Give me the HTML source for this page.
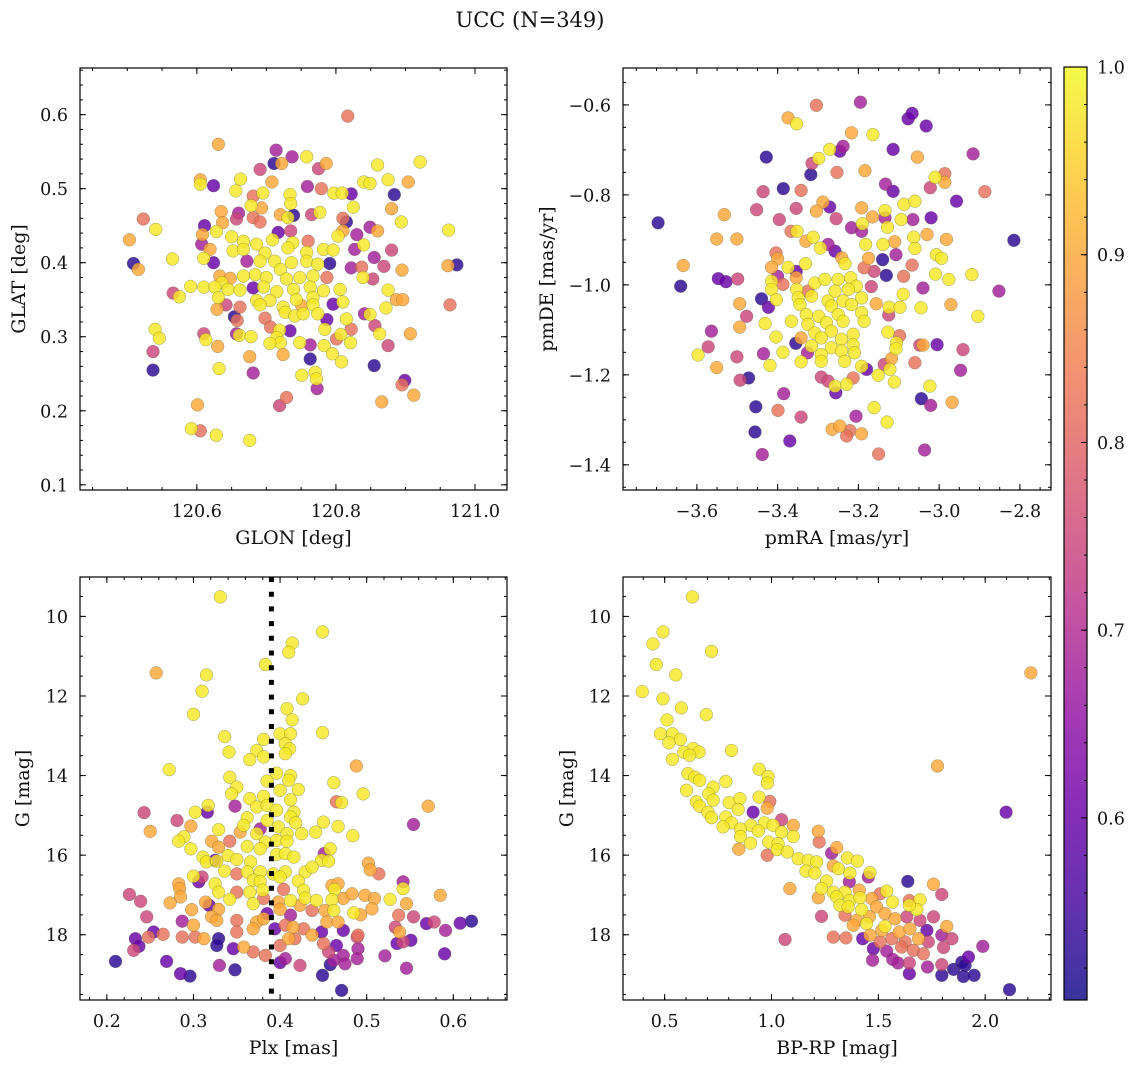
<!DOCTYPE html>
<html><head><meta charset="utf-8">
<style>
html,body{margin:0;padding:0;background:#fff;}
svg text{font-family:"DejaVu Serif","Liberation Serif",serif;fill:#111;}
</style></head>
<body>
<svg id="fig" width="1136" height="1067" viewBox="0 0 1136 1067" xmlns="http://www.w3.org/2000/svg">
<defs>
<linearGradient id="plasma" x1="0" y1="1" x2="0" y2="0">
<stop offset="0" stop-color="#0d0887"/><stop offset="0.1" stop-color="#41049d"/><stop offset="0.2" stop-color="#6a00a8"/><stop offset="0.3" stop-color="#8f0da4"/><stop offset="0.4" stop-color="#b12a90"/><stop offset="0.5" stop-color="#cc4778"/><stop offset="0.6" stop-color="#e16462"/><stop offset="0.7" stop-color="#f2844b"/><stop offset="0.8" stop-color="#fca636"/><stop offset="0.9" stop-color="#fcce25"/><stop offset="1" stop-color="#f0f921"/>
</linearGradient>
</defs>
<text x="530" y="27" font-size="21" text-anchor="middle">UCC (N=349)</text>
</svg>
<script>
const glon=[120.817,120.631,120.714,120.711,120.722,120.737,120.758,120.691,120.775,120.786,120.860,120.921,120.605,120.605,120.624,120.663,120.656,120.708,120.759,120.779,120.797,120.809,120.822,120.840,120.849,120.875,120.904,120.884,120.734,120.681,120.695,120.678,120.693,120.735,120.635,120.660,120.657,120.681,120.691,120.720,120.739,120.731,120.765,120.777,120.810,120.815,120.825,120.880,120.894,120.523,120.541,120.503,120.611,120.637,120.628,120.608,120.650,120.717,120.735,120.667,120.709,120.738,120.760,120.803,120.810,120.830,120.849,120.860,120.962,120.607,120.619,120.652,120.667,120.686,120.698,120.731,120.758,120.782,120.796,120.827,120.840,120.880,120.509,120.516,120.565,120.610,120.624,120.672,120.691,120.712,120.736,120.758,120.774,120.791,120.822,120.837,120.855,120.869,120.895,120.961,120.974,120.720,120.684,120.700,120.729,120.748,120.767,120.787,120.839,120.853,120.633,120.636,120.648,120.667,120.591,120.610,120.626,120.645,120.662,120.681,120.696,120.715,120.739,120.763,120.782,120.806,120.566,120.575,120.631,120.686,120.705,120.743,120.767,120.796,120.810,120.875,120.887,120.896,120.964,120.629,120.642,120.662,120.691,120.724,120.751,120.767,120.872,120.654,120.658,120.698,120.727,120.741,120.753,120.774,120.787,120.815,120.841,120.849,120.540,120.546,120.610,120.613,120.630,120.657,120.661,120.678,120.706,120.719,120.734,120.715,120.720,120.705,120.748,120.763,120.784,120.783,120.801,120.807,120.822,120.821,120.856,120.863,120.875,120.907,120.537,120.537,120.632,120.676,120.681,120.724,120.763,120.795,120.808,120.751,120.770,120.772,120.773,120.855,120.899,120.895,120.912,120.866,120.729,120.719,120.601,120.592,120.605,120.628,120.676];
const glat=[.598,.560,.552,.534,.534,.543,.543,.526,.527,.534,.532,.536,.512,.506,.504,.513,.497,.509,.503,.500,.494,.494,.493,.509,.507,.512,.509,.492,.492,.490,.494,.477,.474,.480,.469,.467,.459,.461,.455,.465,.464,.461,.465,.468,.460,.455,.475,.473,.455,.459,.445,.431,.450,.454,.442,.438,.435,.441,.443,.429,.431,.427,.429,.436,.443,.438,.448,.443,.444,.425,.418,.416,.418,.425,.413,.420,.414,.418,.417,.418,.424,.417,.399,.391,.405,.406,.400,.402,.402,.402,.400,.402,.398,.399,.393,.394,.407,.395,.390,.396,.397,.391,.384,.380,.378,.380,.382,.380,.380,.378,.382,.373,.379,.382,.368,.367,.367,.364,.363,.366,.367,.361,.364,.367,.362,.364,.359,.354,.353,.349,.349,.350,.353,.344,.347,.363,.350,.350,.343,.337,.343,.340,.343,.340,.342,.343,.339,.327,.322,.325,.333,.328,.331,.331,.323,.324,.331,.330,.310,.298,.304,.296,.287,.304,.302,.300,.313,.309,.308,.299,.292,.291,.292,.289,.310,.288,.297,.303,.310,.292,.315,.304,.288,.304,.280,.255,.257,.273,.251,.276,.270,.277,.266,.248,.252,.243,.230,.261,.241,.235,.221,.212,.218,.207,.208,.176,.173,.167,.160];
const prob1=[.82,.9,.68,.53,.9,.68,.98,.75,.75,.9,.98,.98,.9,.98,.6,.98,.98,.9,.68,.82,.98,.98,.6,.98,.98,.98,.9,.53,.98,.82,.98,.98,.9,.98,.9,.68,.75,.82,.82,.9,.53,.98,.75,.98,.82,.53,.98,.9,.98,.82,.98,.9,.6,.9,.98,.9,.98,.6,.75,.98,.98,.98,.82,.98,.9,.68,.68,.9,.98,.68,.9,.98,.98,.98,.98,.98,.98,.98,.98,.68,.98,.75,.53,.9,.98,.98,.6,.68,.98,.98,.98,.98,.98,.53,.68,.82,.68,.75,.9,.9,.53,.98,.98,.98,.98,.98,.98,.82,.98,.75,.9,.98,.9,.98,.98,.98,.98,.98,.98,.6,.98,.98,.98,.98,.98,.98,.75,.98,.98,.98,.98,.98,.98,.6,.98,.98,.9,.9,.82,.9,.75,.82,.98,.98,.9,.98,.98,.53,.82,.82,.98,.98,.98,.98,.6,.98,.68,.98,.98,.98,.75,.98,.9,.68,.98,.98,.82,.98,.6,.98,.98,.98,.98,.68,.98,.98,.82,.98,.82,.98,.75,.98,.75,.9,.75,.53,.98,.9,.68,.9,.53,.98,.98,.98,.98,.98,.68,.53,.6,.82,.9,.9,.82,.75,.9,.98,.82,.98,.98];

const pmra=[-3.304,-3.195,-3.374,-3.353,-3.217,-3.164,-3.077,-3.067,-3.032,-3.428,-3.271,-3.246,-3.238,-3.298,-3.315,-3.318,-3.253,-3.184,-3.114,-3.054,-2.916,-3.010,-2.986,-2.986,-3.133,-3.114,-3.022,-2.957,-2.887,-3.386,-3.436,-3.342,-3.271,-3.288,-3.304,-3.354,-3.452,-3.396,-3.255,-3.192,-3.165,-3.134,-3.128,-3.134,-3.217,-3.192,-3.190,-3.087,-3.060,-3.094,-3.065,-3.020,-3.696,-3.532,-3.551,-3.501,-3.367,-3.352,-3.312,-3.330,-3.275,-3.294,-3.258,-3.182,-3.139,-3.110,-3.107,-3.063,-3.060,-3.030,-2.982,-3.007,-2.994,-2.815,-3.404,-3.400,-3.241,-3.233,-3.175,-3.140,-3.186,-3.161,-3.634,-3.415,-3.374,-3.354,-3.331,-3.400,-3.131,-3.088,-3.067,-3.009,-2.976,-2.919,-3.640,-3.547,-3.528,-3.499,-3.415,-3.387,-3.354,-3.308,-3.283,-3.250,-3.219,-3.205,-3.168,-3.040,-2.852,-3.415,-3.353,-3.325,-3.258,-3.225,-3.440,-3.403,-3.349,-3.316,-3.275,-3.238,-3.192,-3.089,-3.494,-3.423,-3.345,-3.267,-3.217,-3.156,-3.124,-3.097,-3.045,-2.971,-3.477,-3.329,-3.298,-3.250,-3.192,-3.125,-2.904,-3.431,-3.366,-3.325,-3.279,-3.238,-3.186,-3.564,-3.494,-3.308,-3.267,-3.213,-3.127,-3.098,-3.404,-3.342,-3.292,-3.242,-3.106,-3.572,-3.355,-3.316,-3.267,-3.213,-3.107,-3.048,-3.040,-3.005,-2.941,-3.597,-3.501,-3.435,-3.387,-3.326,-3.292,-3.242,-3.210,-3.551,-3.419,-3.342,-3.292,-3.234,-3.192,-3.180,-3.136,-3.118,-3.060,-2.947,-3.493,-3.472,-3.292,-3.275,-3.213,-3.151,-3.122,-3.111,-3.258,-3.229,-3.256,-3.385,-3.023,-3.044,-3.021,-2.968,-3.454,-3.399,-3.342,-3.206,-3.161,-3.129,-3.265,-3.246,-3.221,-3.229,-3.192,-3.456,-3.370,-3.438,-3.150,-3.036];
const pmde=[-0.601,-0.594,-0.629,-0.642,-0.662,-0.666,-0.631,-0.619,-0.647,-0.716,-0.699,-0.703,-0.692,-0.719,-0.730,-0.755,-0.750,-0.746,-0.699,-0.716,-0.709,-0.761,-0.753,-0.772,-0.776,-0.792,-0.784,-0.814,-0.793,-0.786,-0.793,-0.790,-0.827,-0.816,-0.836,-0.830,-0.833,-0.855,-0.853,-0.829,-0.849,-0.835,-0.872,-0.851,-0.873,-0.881,-0.864,-0.821,-0.814,-0.855,-0.855,-0.851,-0.862,-0.844,-0.898,-0.898,-0.881,-0.881,-0.894,-0.903,-0.910,-0.918,-0.925,-0.910,-0.910,-0.904,-0.933,-0.894,-0.919,-0.888,-0.899,-0.933,-0.941,-0.901,-0.929,-0.942,-0.940,-0.953,-0.941,-0.944,-0.962,-0.970,-0.957,-0.961,-0.961,-0.970,-0.953,-0.981,-0.979,-0.981,-0.956,-0.976,-0.988,-0.977,-1.003,-0.986,-0.993,-0.987,-0.992,-0.999,-0.984,-0.996,-0.988,-0.988,-0.984,-1.003,-1.004,-1.007,-1.014,-1.010,-1.010,-1.014,-1.014,-1.010,-1.031,-1.033,-1.029,-1.025,-1.036,-1.036,-1.029,-1.021,-1.042,-1.050,-1.044,-1.047,-1.044,-1.042,-1.050,-1.050,-1.051,-1.044,-1.070,-1.066,-1.070,-1.066,-1.062,-1.067,-1.070,-1.086,-1.081,-1.088,-1.084,-1.081,-1.081,-1.103,-1.094,-1.107,-1.103,-1.110,-1.105,-1.113,-1.116,-1.118,-1.118,-1.121,-1.129,-1.138,-1.130,-1.136,-1.140,-1.133,-1.142,-1.134,-1.134,-1.133,-1.144,-1.156,-1.160,-1.153,-1.150,-1.151,-1.155,-1.147,-1.151,-1.184,-1.179,-1.171,-1.170,-1.170,-1.181,-1.188,-1.177,-1.164,-1.173,-1.190,-1.212,-1.207,-1.205,-1.214,-1.207,-1.201,-1.188,-1.216,-1.225,-1.221,-1.240,-1.242,-1.225,-1.253,-1.268,-1.261,-1.271,-1.279,-1.294,-1.292,-1.273,-1.305,-1.321,-1.314,-1.324,-1.336,-1.331,-1.327,-1.347,-1.377,-1.376,-1.367];
const prob2=[.82,.68,.9,.98,.9,.98,.6,.6,.6,.53,.98,.6,.68,.98,.75,.53,.82,.9,.6,.9,.68,.98,.82,.9,.68,.6,.75,.6,.82,.53,.75,.82,.6,.9,.9,.75,.75,.75,.75,.9,.9,.98,.98,.68,.68,.68,.98,.98,.98,.98,.68,.6,.53,.9,.9,.9,.82,.98,.98,.9,.68,.98,.6,.98,.98,.9,.68,.98,.98,.9,.9,.98,.98,.53,.82,.9,.9,.98,.9,.53,.82,.75,.9,.9,.98,.6,.98,.68,.53,.82,.82,.98,.98,.98,.53,.6,.6,.75,.98,.82,.9,.98,.98,.98,.98,.98,.75,.68,.68,.98,.98,.82,.98,.98,.53,.98,.98,.98,.98,.98,.98,.98,.9,.6,.98,.98,.98,.9,.98,.98,.98,.9,.75,.98,.98,.98,.98,.75,.98,.98,.98,.98,.98,.98,.98,.68,.9,.98,.98,.98,.98,.82,.98,.9,.98,.98,.98,.75,.53,.98,.98,.98,.98,.75,.9,.6,.75,.98,.75,.68,.98,.68,.98,.98,.98,.9,.98,.98,.98,.98,.98,.6,.75,.9,.82,.68,.75,.53,.75,.75,.82,.98,.98,.98,.98,.98,.6,.68,.98,.53,.68,.9,.53,.82,.75,.68,.98,.98,.9,.9,.82,.82,.9,.53,.6,.68,.82,.68];

const plx=[0.331,0.449,0.414,0.410,0.383,0.257,0.315,0.310,0.300,0.426,0.408,0.414,0.449,0.336,0.341,0.381,0.373,0.365,0.381,0.400,0.412,0.406,0.411,0.406,0.272,0.488,0.396,0.412,0.342,0.385,0.410,0.462,0.350,0.400,0.421,0.496,0.344,0.365,0.381,0.412,0.465,0.471,0.571,0.317,0.316,0.348,0.373,0.385,0.396,0.416,0.302,0.243,0.281,0.362,0.385,0.412,0.418,0.450,0.554,0.297,0.358,0.377,0.398,0.467,0.250,0.329,0.354,0.373,0.408,0.425,0.441,0.484,0.289,0.283,0.321,0.342,0.383,0.396,0.408,0.297,0.329,0.362,0.377,0.458,0.451,0.311,0.325,0.340,0.350,0.366,0.396,0.406,0.416,0.448,0.456,0.315,0.327,0.502,0.504,0.514,0.336,0.350,0.362,0.377,0.392,0.406,0.429,0.437,0.300,0.306,0.310,0.325,0.369,0.377,0.400,0.421,0.542,0.283,0.284,0.460,0.467,0.542,0.463,0.226,0.239,0.285,0.329,0.350,0.365,0.380,0.404,0.427,0.273,0.314,0.342,0.369,0.381,0.398,0.412,0.429,0.442,0.460,0.473,0.483,0.498,0.509,0.527,0.546,0.585,0.318,0.329,0.298,0.400,0.423,0.437,0.452,0.462,0.485,0.493,0.506,0.246,0.287,0.300,0.321,0.327,0.350,0.373,0.381,0.385,0.412,0.454,0.467,0.537,0.554,0.569,0.578,0.608,0.621,0.254,0.265,0.233,0.248,0.287,0.302,0.312,0.329,0.350,0.369,0.394,0.406,0.415,0.427,0.448,0.437,0.410,0.473,0.490,0.533,0.538,0.591,0.551,0.535,0.542,0.231,0.237,0.327,0.346,0.358,0.369,0.383,0.400,0.417,0.450,0.456,0.465,0.473,0.489,0.490,0.590,0.210,0.269,0.330,0.348,0.400,0.406,0.423,0.458,0.462,0.475,0.489,0.521,0.546,0.285,0.296,0.449,0.471];
const gmag3=[9.51,10.39,10.67,10.90,11.21,11.42,11.47,11.88,12.46,12.07,12.32,12.60,12.92,13.02,13.41,13.09,13.37,13.60,13.53,12.95,12.95,13.20,13.33,13.45,13.85,13.76,13.94,14.00,14.04,14.14,14.12,14.18,14.29,14.37,14.35,14.46,14.46,14.58,14.52,14.61,14.66,14.68,14.77,14.75,14.92,14.77,14.79,14.75,14.87,14.92,14.92,14.93,15.13,15.06,15.13,15.04,15.19,15.17,15.23,15.27,15.25,15.34,15.29,15.28,15.40,15.36,15.42,15.46,15.46,15.46,15.42,15.51,15.54,15.65,15.65,15.65,15.67,15.63,15.65,15.84,15.80,15.78,15.84,15.84,15.96,16.05,16.13,16.01,16.11,16.17,15.98,15.96,16.05,16.13,16.15,16.17,16.15,16.20,16.37,16.47,16.40,16.47,16.42,16.42,16.47,16.42,16.42,16.30,16.53,16.67,16.55,16.72,16.63,16.66,16.55,16.65,16.67,16.72,16.84,16.76,16.72,16.84,16.86,16.99,17.16,17.05,16.93,16.93,16.93,16.88,16.86,16.88,17.20,17.18,17.11,17.22,17.09,17.18,17.14,17.08,17.14,17.12,17.09,16.97,17.01,17.09,17.11,17.22,17.01,17.26,17.36,17.37,17.36,17.26,17.39,17.39,17.39,17.45,17.50,17.35,17.55,17.66,17.76,17.55,17.64,17.64,17.68,17.60,17.47,17.51,17.68,17.68,17.51,17.55,17.72,17.68,17.71,17.66,17.93,17.99,18.10,18.06,18.06,18.06,18.10,18.10,17.93,17.85,17.85,17.76,17.81,17.85,17.93,18.01,18.10,17.89,18.01,17.81,17.93,17.89,18.14,18.22,18.18,18.39,18.29,18.27,18.35,18.31,18.43,18.52,18.27,18.10,18.22,18.43,18.27,18.52,18.06,18.35,18.48,18.67,18.67,18.77,18.88,18.70,18.60,18.77,18.75,18.64,18.73,18.60,18.53,18.84,18.98,19.04,19.02,19.40];
const prob3=[.98,.98,.98,.98,.98,.9,.98,.98,.98,.98,.98,.98,.98,.98,.98,.98,.98,.98,.98,.98,.98,.98,.98,.98,.98,.9,.98,.98,.98,.98,.98,.98,.98,.98,.98,.98,.98,.98,.98,.98,.82,.98,.9,.98,.6,.68,.98,.98,.98,.98,.98,.75,.75,.98,.98,.98,.98,.98,.68,.9,.98,.68,.98,.98,.9,.98,.9,.98,.98,.98,.98,.98,.98,.98,.9,.82,.98,.98,.98,.98,.9,.98,.98,.98,.68,.98,.6,.98,.98,.98,.98,.98,.98,.98,.98,.98,.98,.9,.9,.82,.98,.82,.98,.98,.98,.98,.98,.98,.98,.6,.75,.98,.98,.98,.98,.98,.68,.9,.9,.9,.9,.98,.98,.75,.75,.9,.98,.82,.98,.98,.82,.98,.9,.9,.98,.98,.82,.9,.98,.98,.98,.98,.9,.9,.9,.9,.98,.9,.9,.6,.9,.9,.9,.9,.82,.9,.98,.98,.9,.9,.75,.68,.9,.9,.9,.82,.9,.9,.6,.68,.9,.9,.82,.75,.6,.75,.6,.53,.6,.82,.6,.82,.82,.82,.9,.53,.82,.9,.6,.82,.9,.82,.6,.9,.9,.6,.82,.75,.9,.68,.6,.6,.75,.75,.6,.53,.6,.9,.82,.82,.82,.82,.82,.75,.6,.68,.75,.68,.6,.53,.6,.68,.53,.6,.68,.75,.53,.68,.68,.68,.68,.68,.6,.53,.53,.53];

const bprp=[0.630,0.492,0.445,0.719,0.461,0.552,2.214,0.395,0.492,0.578,0.695,0.511,0.480,0.536,0.573,0.520,0.633,0.661,0.589,0.536,0.617,0.813,1.777,0.942,0.609,0.641,0.984,0.981,0.664,0.786,0.602,0.727,0.706,0.942,0.992,0.648,0.727,0.802,0.852,0.980,0.664,0.844,0.914,2.098,0.703,0.719,0.786,0.813,1.047,0.903,0.967,1.008,1.102,0.773,0.855,0.938,1.047,1.102,1.219,1.223,0.855,0.902,0.987,1.031,0.847,0.980,1.027,1.074,1.125,1.172,1.211,1.281,1.305,1.355,1.402,1.161,1.203,1.289,1.313,1.367,1.461,1.453,1.364,1.258,1.086,1.234,1.289,1.344,1.411,1.638,1.758,1.797,1.219,1.305,1.367,1.414,1.469,1.508,1.539,1.567,1.645,1.695,1.680,1.320,1.359,1.422,1.492,1.531,1.645,1.234,1.344,1.398,1.458,1.578,1.633,1.695,1.758,1.383,1.445,1.531,1.516,1.598,1.648,1.727,1.820,1.797,1.427,1.461,1.508,1.563,1.625,1.688,1.734,1.844,1.063,1.289,1.348,1.477,1.539,1.609,1.664,1.711,1.805,1.989,1.473,1.567,1.592,1.645,1.730,1.797,1.852,1.891,1.922,1.906,1.645,1.797,1.898,1.948,2.114];
const gmag4=[9.51,10.39,10.69,10.88,11.21,11.47,11.42,11.89,12.07,12.30,12.47,12.60,12.95,12.95,13.09,13.18,13.32,13.41,13.41,13.59,13.49,13.37,13.76,13.84,13.95,14.04,14.02,14.19,14.12,14.15,14.37,14.29,14.46,14.54,14.65,14.66,14.62,14.68,14.58,14.82,14.77,14.85,14.92,14.92,14.92,15.06,15.04,15.19,15.11,15.25,15.19,15.25,15.25,15.29,15.34,15.39,15.42,15.53,15.40,15.67,15.53,15.70,15.67,15.71,15.85,16.00,15.86,15.92,16.09,16.13,16.17,15.95,15.81,16.07,16.15,16.40,16.45,16.27,16.34,16.45,16.44,16.55,16.67,16.65,16.84,16.84,16.93,16.93,16.88,16.66,16.73,16.99,17.07,17.05,17.14,17.07,17.09,16.97,16.90,17.18,17.14,17.12,17.37,17.26,17.30,17.37,17.30,17.47,17.26,17.54,17.51,17.64,17.55,17.60,17.55,17.64,17.55,17.76,17.72,17.79,17.89,17.93,17.85,17.89,17.79,18.01,18.10,18.01,18.18,18.10,18.18,18.10,18.18,18.10,18.12,18.06,18.08,18.35,18.41,18.31,18.39,18.48,18.32,18.29,18.64,18.62,18.71,18.71,18.81,18.75,18.87,18.69,18.56,18.77,18.98,19.02,19.05,19.02,19.38];
const prob4=[.98,.98,.98,.98,.98,.98,.9,.98,.98,.98,.98,.98,.98,.98,.98,.98,.98,.98,.98,.98,.98,.98,.9,.98,.98,.98,.98,.98,.98,.98,.98,.98,.98,.98,.82,.98,.98,.98,.98,.9,.98,.98,.6,.6,.98,.98,.98,.98,.75,.98,.98,.98,.9,.98,.98,.98,.98,.98,.9,.82,.98,.98,.98,.98,.9,.82,.98,.98,.98,.98,.98,.68,.9,.98,.98,.98,.98,.9,.98,.98,.98,.68,.68,.98,.9,.98,.98,.98,.9,.53,.9,.75,.9,.98,.98,.98,.9,.82,.98,.98,.82,.98,.98,.98,.98,.98,.9,.9,.98,.75,.82,.9,.9,.9,.75,.75,.75,.9,.98,.98,.9,.9,.9,.6,.9,.68,.6,.9,.82,.82,.82,.9,.75,.75,.75,.82,.82,.6,.68,.82,.82,.82,.75,.68,.68,.68,.68,.75,.68,.75,.53,.53,.6,.53,.6,.53,.53,.53,.53];

const plxLine=[0.39];
const cbarTicks=[0.6,0.7,0.8,0.9,1.0];
const cbarRange=[0.503,1.0];

const NS='http://www.w3.org/2000/svg';
const svg=document.getElementById('fig');
function mk(tag,attrs,parent){const e=document.createElementNS(NS,tag);for(const k in attrs)e.setAttribute(k,attrs[k]);(parent||svg).appendChild(e);return e;}
const stops=[[13,8,135],[65,4,157],[106,0,168],[143,13,164],[177,42,144],[204,71,120],[225,100,98],[242,132,75],[252,166,54],[252,206,37],[240,249,33]];
function plasma(v){let t=(v-cbarRange[0])/(cbarRange[1]-cbarRange[0]);t=Math.max(0,Math.min(1,t));const f=t*10,i=Math.min(9,Math.floor(f)),u=f-i;const a=stops[i],b=stops[i+1];return 'rgb('+[0,1,2].map(k=>Math.round(a[k]+(b[k]-a[k])*u)).join(',')+')';}
function fmt(v,d){const s=Math.abs(v).toFixed(d);return (v<-1e-9?'\u2212':'')+s;}
const TICKFS=17.5, LABFS=19;

function panel(cfg){
  const g=mk('g',{});
  
  
  const X=v=>cfg.x0+(v-cfg.xd[0])/(cfg.xd[1]-cfg.xd[0])*(cfg.x1-cfg.x0);
  const Y=v=>cfg.y1-(v-cfg.yd[0])/(cfg.yd[1]-cfg.yd[0])*(cfg.y1-cfg.y0);
  const clip=mk('clipPath',{id:'clip-'+cfg.name},g);
  mk('rect',{x:cfg.x0,y:cfg.y0,width:cfg.x1-cfg.x0,height:cfg.y1-cfg.y0},clip);
  const pts=mk('g',{'clip-path':'url(#clip-'+cfg.name+')'},g);
  
  
  const n=Math.min(cfg.xs.length,cfg.ys.length,cfg.ps.length);
  const idx=[];for(let i=0;i<n;i++)idx.push(i);
  idx.sort((a,b)=>cfg.ps[a]-cfg.ps[b]);
  idx.forEach(i=>{
    const c=mk('circle',{cx:X(cfg.xs[i]).toFixed(1),cy:Y(cfg.ys[i]).toFixed(1),r:6.4,fill:plasma(cfg.ps[i]),'fill-opacity':0.82,stroke:'#5a5a3a','stroke-width':0.5,'stroke-opacity':0.55},pts);
    
    
  });
  if(cfg.vline){cfg.vline.forEach(v=>{
    const l=mk('line',{x1:X(v),x2:X(v),y1:cfg.y0,y2:cfg.y1,stroke:'#000','stroke-width':5,'stroke-dasharray':'5 9.7'},g);
    
    
  });}
  const fr=mk('rect',{x:cfg.x0,y:cfg.y0,width:cfg.x1-cfg.x0,height:cfg.y1-cfg.y0,fill:'none',stroke:'#000','stroke-width':1.2},g);
  
  
  const tg=mk('g',{stroke:'#000','stroke-width':1},g);
  for(let v=cfg.xminor[0];v<=cfg.xd[1]+1e-9;v+=cfg.xminor[1]){const px=X(v);if(px<cfg.x0||px>cfg.x1)continue;
    mk('line',{x1:px,x2:px,y1:cfg.y1,y2:cfg.y1-3},tg);mk('line',{x1:px,x2:px,y1:cfg.y0,y2:cfg.y0+3},tg);}
  for(let v=cfg.yminor[0];v<=Math.max(cfg.yd[0],cfg.yd[1])+1e-9;v+=cfg.yminor[1]){const py=Y(v);if(py<cfg.y0||py>cfg.y1)continue;
    mk('line',{x1:cfg.x0,x2:cfg.x0+3,y1:py,y2:py},tg);mk('line',{x1:cfg.x1,x2:cfg.x1-3,y1:py,y2:py},tg);}
  cfg.xt.forEach(v=>{const px=X(v);
    mk('line',{x1:px,x2:px,y1:cfg.y1,y2:cfg.y1-6},tg);mk('line',{x1:px,x2:px,y1:cfg.y0,y2:cfg.y0+6},tg);
    const t=mk('text',{x:px,y:cfg.y1+27,'font-size':TICKFS,'text-anchor':'middle'},g);t.textContent=fmt(v,cfg.xdp);
    });
  cfg.yt.forEach(v=>{const py=Y(v);
    mk('line',{x1:cfg.x0,x2:cfg.x0+6,y1:py,y2:py},tg);mk('line',{x1:cfg.x1,x2:cfg.x1-6,y1:py,y2:py},tg);
    const t=mk('text',{x:cfg.x0-12,y:py+6.5,'font-size':TICKFS,'text-anchor':'end'},g);t.textContent=fmt(v,cfg.ydp);
    });
  const xl=mk('text',{x:(cfg.x0+cfg.x1)/2,y:cfg.y1+54,'font-size':LABFS,'text-anchor':'middle'},g);xl.textContent=cfg.xlab;
  
  const ym=(cfg.y0+cfg.y1)/2;
  const yl=mk('text',{x:cfg.ylx,y:ym,'font-size':LABFS,'text-anchor':'middle',transform:'rotate(-90 '+cfg.ylx+' '+ym+')'},g);yl.textContent=cfg.ylab;
  
}

panel({name:'glon-glat-panel',x0:80,x1:507,y0:68,y1:490,xd:[120.432,121.046],yd:[0.093,0.663],xs:glon,ys:glat,ps:prob1,
  xt:[120.6,120.8,121.0],xdp:1,yt:[0.1,0.2,0.3,0.4,0.5,0.6],ydp:1,xminor:[120.45,0.05],yminor:[0.1,0.02],xlab:'GLON [deg]',ylab:'GLAT [deg]',ylx:25});
panel({name:'pm-panel',x0:623,x1:1051,y0:68,y1:490,xd:[-3.783,-2.723],yd:[-1.456,-0.518],xs:pmra,ys:pmde,ps:prob2,
  xt:[-3.6,-3.4,-3.2,-3.0,-2.8],xdp:1,yt:[-1.4,-1.2,-1.0,-0.8,-0.6],ydp:1,xminor:[-3.75,0.05],yminor:[-1.45,0.05],xlab:'pmRA [mas/yr]',ylab:'pmDE [mas/yr]',ylx:553});
panel({name:'plx-g-panel',x0:80,x1:507,y0:577,y1:1000,xd:[0.169,0.662],yd:[19.64,9.01],xs:plx,ys:gmag3,ps:prob3,vline:plxLine,
  xt:[0.2,0.3,0.4,0.5,0.6],xdp:1,yt:[10,12,14,16,18],ydp:0,xminor:[0.18,0.02],yminor:[9.5,0.5],xlab:'Plx [mas]',ylab:'G [mag]',ylx:29});
panel({name:'cmd-panel',x0:623,x1:1051,y0:577,y1:1000,xd:[0.305,2.308],yd:[19.64,9.01],xs:bprp,ys:gmag4,ps:prob4,
  xt:[0.5,1.0,1.5,2.0],xdp:1,yt:[10,12,14,16,18],ydp:0,xminor:[0.4,0.1],yminor:[9.5,0.5],xlab:'BP-RP [mag]',ylab:'G [mag]',ylx:573});

const cb=mk('g',{});


const cx0=1064,cx1=1087,cy0=67,cy1=1000;
const CY=v=>cy1-(v-cbarRange[0])/(cbarRange[1]-cbarRange[0])*(cy1-cy0);
mk('rect',{x:cx0,y:cy0,width:cx1-cx0,height:cy1-cy0,fill:'url(#plasma)','fill-opacity':0.82},cb);
mk('rect',{x:cx0,y:cy0,width:cx1-cx0,height:cy1-cy0,fill:'none',stroke:'#000','stroke-width':1.2},cb);
for(let v=0.52;v<=1.0001;v+=0.02){const py=CY(v);mk('line',{x1:cx1,x2:cx1-3,y1:py,y2:py,stroke:'#000','stroke-width':1},cb);}
cbarTicks.forEach(v=>{const py=CY(v);mk('line',{x1:cx1,x2:cx1-6,y1:py,y2:py,stroke:'#000','stroke-width':1},cb);
  const t=mk('text',{x:cx1+10,y:py+6.5,'font-size':TICKFS},cb);t.textContent=v.toFixed(1);
  });
</script>
</body></html>
